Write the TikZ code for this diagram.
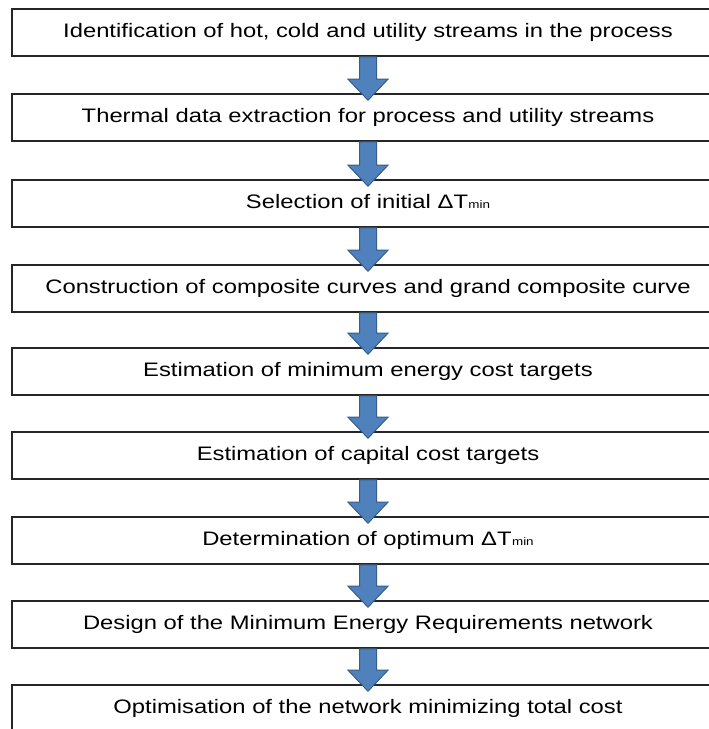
\documentclass[tikz,border=0pt]{standalone}
\usepackage{graphicx}
\usepackage{fontspec}
\setmainfont{Liberation Sans}
\usetikzlibrary{calc}

\definecolor{boxline}{RGB}{38,38,38}
\definecolor{arrowfill}{RGB}{79,129,189}
\definecolor{arrowline}{RGB}{56,93,138}

% labels are set slightly stretched sideways
\newcommand{\wide}[1]{\scalebox{1.22}[1]{#1}}
\newcommand{\tmin}{ΔT\kern0.3pt{\fontsize{11}{11}\selectfont min}}
\newcommand{\flowarrow}[2]{%
  \draw[flowstyle]
    ($(#1.south)+(-8.5,0)$) -- ($(#2.north)+(-8.5,-14)$) --
    ($(#2.north)+(-20,-14)$) -- ($(#2.north)+(0,7)$) --
    ($(#2.north)+(20,-14)$) -- ($(#2.north)+(8.5,-14)$) --
    ($(#1.south)+(8.5,0)$) -- cycle;}

\begin{document}
\begin{tikzpicture}[x=1pt,y=-1pt,
  stepbox/.style={draw=boxline, line width=1.6pt, fill=white,
    minimum width=712pt, minimum height=47pt, inner sep=0pt,
    text height=14.5pt, text depth=4pt,
    font=\fontsize{19.5}{22}\selectfont},
  flowstyle/.style={fill=arrowfill, draw=arrowline, line width=1pt, line join=miter}]
  \clip (0,0) rectangle (709,729);
  \fill[white] (0,0) rectangle (709,729);

  \node[stepbox] (b1) at (368,32.5) {\wide{Identification of hot, cold and utility streams in the process}};
  \node[stepbox] (b2) at (368,117.5) {\wide{Thermal data extraction for process and utility streams}};
  \node[stepbox] (b3) at (368,203.5) {\wide{Selection of initial \tmin}};
  \node[stepbox] (b4) at (368,288.5) {\wide{Construction of composite curves and grand composite curve}};
  \node[stepbox] (b5) at (368,371.5) {\wide{Estimation of minimum energy cost targets}};
  \node[stepbox] (b6) at (368,455.5) {\wide{Estimation of capital cost targets}};
  \node[stepbox] (b7) at (368,540.5) {\wide{Determination of optimum \tmin}};
  \node[stepbox] (b8) at (368,624.5) {\wide{Design of the Minimum Energy Requirements network}};
  \node[stepbox] (b9) at (368,708.5) {\wide{Optimisation of the network minimizing total cost}};

  \flowarrow{b1}{b2}
  \flowarrow{b2}{b3}
  \flowarrow{b3}{b4}
  \flowarrow{b4}{b5}
  \flowarrow{b5}{b6}
  \flowarrow{b6}{b7}
  \flowarrow{b7}{b8}
  \flowarrow{b8}{b9}
\end{tikzpicture}
\end{document}
